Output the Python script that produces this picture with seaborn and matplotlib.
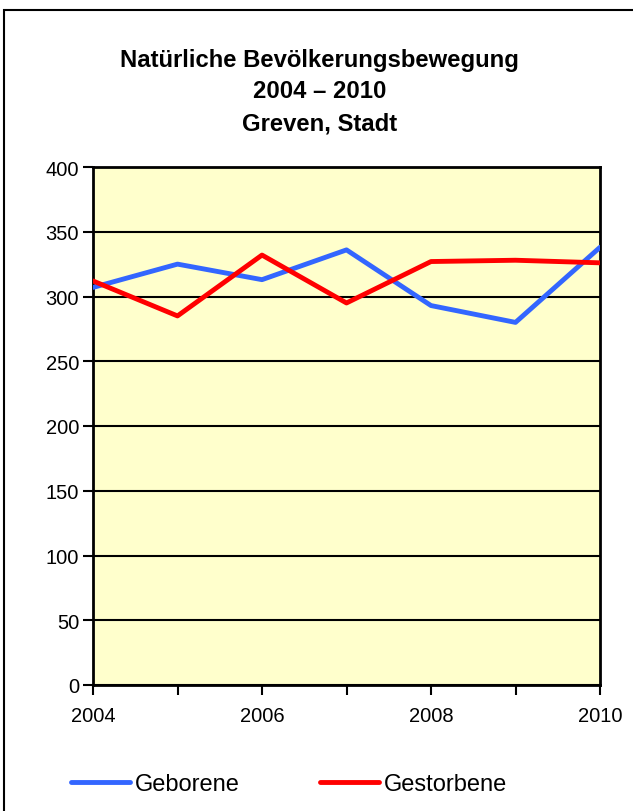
import pandas as pd
import matplotlib.pyplot as plt
import matplotlib.patches as mpatches
import seaborn as sns

# Data
years = [2004, 2005, 2006, 2007, 2008, 2009, 2010]
geborene = [307, 325, 313, 336, 293, 280, 338]
gestorbene = [312, 285, 332, 295, 327, 328, 326]
y_ticks = [0, 50, 100, 150, 200, 250, 300, 350, 400]
x_labels = ['2004', '', '2006', '', '2008', '', '2010']

df = pd.DataFrame({
    'Jahr': years * 2,
    'Anzahl': geborene + gestorbene,
    'Serie': ['Geborene'] * len(years) + ['Gestorbene'] * len(years),
})

sns.set_style('white')
plt.rcParams['font.family'] = ['Liberation Sans', 'DejaVu Sans']
plt.rcParams['text.color'] = 'black'

fig = plt.figure(figsize=(6.33, 8.12), dpi=100)
ax = fig.add_axes([93 / 633, 1 - 686 / 812, 507 / 633, 518 / 812])

sns.lineplot(data=df, x='Jahr', y='Anzahl', hue='Serie',
             palette={'Geborene': '#3366FF', 'Gestorbene': '#FF0000'},
             linewidth=3.5, ax=ax, legend=False, zorder=3)

ax.set_facecolor('#FFFFCC')
ax.set_xlim(2004, 2010)
ax.set_ylim(0, 400)
ax.set_yticks(y_ticks)
ax.set_xticks(years)
ax.set_xticklabels(x_labels)
ax.grid(axis='y', color='black', linewidth=1.5, zorder=1)
ax.set_axisbelow(True)
for s in ax.spines.values():
    s.set_color('black')
    s.set_linewidth(2)
ax.tick_params(axis='both', direction='out', length=7, width=1.5, color='black',
               labelsize=14.5, labelcolor='black', left=True, bottom=True)
ax.tick_params(axis='x', pad=8)
ax.tick_params(axis='y', pad=3)
ax.set_xlabel('')
ax.set_ylabel('')

# Title
for yy, line in zip([60, 92, 124], ['Natürliche Bevölkerungsbewegung', '2004 – 2010', 'Greven, Stadt']):
    fig.text(0.505, 1 - yy / 812, line, ha='center', va='center',
             fontsize=17.2, fontweight='bold')

# Legend
handles = [plt.Line2D([], [], color='#3366FF', linewidth=3.5, solid_capstyle='round'),
           plt.Line2D([], [], color='#FF0000', linewidth=3.5, solid_capstyle='round')]
fig.legend(handles, ['Geborene', 'Gestorbene'], loc='center left',
           bbox_to_anchor=(50 / 633, 1 - 785 / 812), ncol=2, frameon=False,
           fontsize=17, handlelength=2.5, handletextpad=0.2, columnspacing=3.4)

# Outer chart border
fig.patches.append(mpatches.Rectangle((4 / 633, -0.1), 1.2, 1 - 11 / 812 + 0.1,
                                      transform=fig.transFigure, fill=False,
                                      edgecolor='black', linewidth=1.5))

fig.savefig('out.png', dpi=100)
